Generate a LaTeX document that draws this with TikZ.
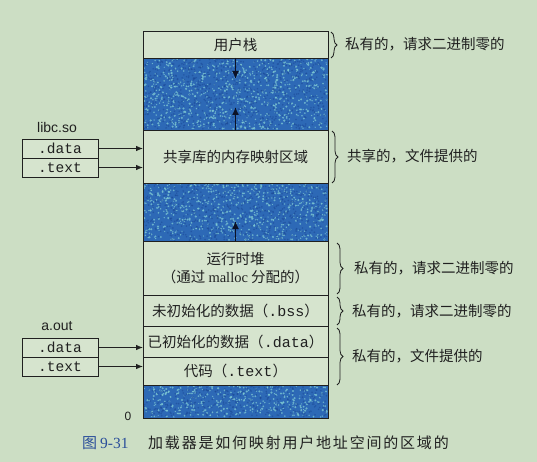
\documentclass[tikz,border=0pt]{standalone}
\usepackage{fontspec}
\setmainfont{Liberation Serif}
\setsansfont{Liberation Sans}
\setmonofont{Liberation Mono}
\newfontfamily\cjk{Noto Sans CJK SC}
\newfontfamily\cjkcap[LetterSpace=12]{Noto Sans CJK SC}
\usetikzlibrary{arrows.meta,decorations.pathreplacing}
\definecolor{bg}{HTML}{CCDEC4}
\definecolor{boxfill}{HTML}{D6E4CE}
\definecolor{ink}{HTML}{202020}
\definecolor{noiseblue}{HTML}{2D69B6}
\definecolor{speckA}{HTML}{80CBD4}
\definecolor{speckB}{HTML}{1B4896}
\definecolor{capblue}{HTML}{2A4E9A}
\definecolor{arrowink}{HTML}{0C1226}
\newcommand\mynoise[5]{%
  \foreach \k in {1,...,#5}{%
    \pgfmathsetmacro\xa{#1+#3*rnd}\pgfmathsetmacro\ya{#2+#4*rnd}\pgfmathsetmacro\ra{0.6+0.6*rnd}%
    \fill[speckA,opacity=0.75] (\xa,\ya) circle (\ra pt);}%
  \foreach \k in {1,...,#5}{%
    \pgfmathsetmacro\xa{#1+#3*rnd}\pgfmathsetmacro\ya{#2+#4*rnd}%
    \fill[speckB,opacity=0.55] (\xa,\ya) circle (0.9pt);}%
}
\tikzset{
  region/.style={draw=ink,line width=0.8pt,fill=boxfill,minimum width=185pt,inner sep=0pt,outer sep=0pt,font=\cjk\fontsize{14.5}{18}\selectfont,text=ink,align=center},
  bluereg/.style={draw=ink,line width=0.8pt,fill=noiseblue,minimum width=185pt,inner sep=0pt,outer sep=0pt},
  secbox/.style={draw=ink,line width=0.8pt,fill=boxfill,minimum width=76pt,minimum height=19pt,inner sep=0pt,outer sep=0pt,font=\ttfamily\fontsize{14.5}{14}\selectfont,text=ink},
  filelabel/.style={font=\sffamily\fontsize{14}{16}\selectfont,text=ink},
  side/.style={font=\cjk\fontsize{14.5}{16}\selectfont,text=ink,anchor=west,inner sep=0pt},
  mybrace/.style={draw=ink,line width=0.8pt,decorate,decoration={brace,amplitude=6pt}},
  ptr/.style={draw=ink,line width=0.8pt,-{Latex[length=7pt,width=5.5pt]}},
  growarrow/.style={draw=arrowink,line width=1.5pt,-{Latex[length=8pt,width=7pt]}}
}
\newcommand\mono[1]{{\ttfamily\fontsize{15}{16}\selectfont #1}}
\begin{document}
\begin{tikzpicture}[x=1pt,y=-1pt]
\useasboundingbox (0,0) rectangle (537,462);
\fill[bg] (0,0) rectangle (537,462);
% main column
\node[region,minimum height=27pt] (stack) at (235.5,44.5) {用户栈};
\node[bluereg,minimum height=72pt] (blueA) at (235.5,94) {};
\node[region,minimum height=53pt] (shared) at (235.5,156.5) {共享库的内存映射区域};
\node[bluereg,minimum height=58pt] (blueB) at (235.5,212) {};
\node[region,minimum height=54pt] (heap) at (235.5,268) {运行时堆\\（通过 {\rmfamily malloc} 分配的）};
\node[region,minimum height=31pt] (bss) at (235.5,310.5) {未初始化的数据（\mono{.bss}）};
\node[region,minimum height=31pt] (data) at (235.5,341.5) {已初始化的数据（\mono{.data}）};
\node[region,minimum height=28pt] (text) at (235.5,371) {代码（\mono{.text}）};
\node[bluereg,minimum height=33pt] (blueC) at (235.5,401.5) {};
% speckle
\pgfmathsetseed{7}
\mynoise{144}{59}{183}{70}{800}
\mynoise{144}{184}{183}{56}{640}
\mynoise{144}{386}{183}{31}{360}
\draw[ink,line width=0.8pt] (blueA.north west) rectangle (blueA.south east);
\draw[ink,line width=0.8pt] (blueB.north west) rectangle (blueB.south east);
\draw[ink,line width=0.8pt] (blueC.north west) rectangle (blueC.south east);
% growth arrows
\coordinate (sdown) at (235.5,79);
\coordinate (sup) at (235.5,107);
\coordinate (hup) at (235.5,221);
\draw[growarrow] (stack.south) -- (sdown);
\draw[growarrow] (shared.north) -- (sup);
\draw[growarrow] (heap.north) -- (hup);
% libc.so
\node[filelabel] (libc) at (57,127) {libc.so};
\node[secbox] (ldata) at (60,148.5) {.data};
\node[secbox] (ltext) at (60,167.5) {.text};
\draw[ptr] (ldata.east) -- (ldata.east -| shared.west);
\draw[ptr] (ltext.east) -- (ltext.east -| shared.west);
% a.out
\node[filelabel] (aout) at (57,326) {a.out};
\node[secbox] (adata) at (60,347.5) {.data};
\node[secbox] (atext) at (60,366.5) {.text};
\draw[ptr] (adata.east) -- (adata.east -| data.west);
\draw[ptr] (atext.east) -- (atext.east -| text.west);
% zero
\node[font=\sffamily\fontsize{12}{14}\selectfont,text=ink] (zero) at (128,416) {0};
% braces
\coordinate (b1a) at (331,32); \coordinate (b1b) at (331,58);
\coordinate (b2a) at (332,131); \coordinate (b2b) at (332,183);
\coordinate (b3a) at (337,243); \coordinate (b3b) at (337,294);
\coordinate (b4a) at (337,297); \coordinate (b4b) at (337,325);
\coordinate (b5a) at (337,328); \coordinate (b5b) at (337,385);
\draw[mybrace] (b1a) -- (b1b);
\draw[mybrace] (b2a) -- (b2b);
\draw[mybrace] (b3a) -- (b3b);
\draw[mybrace] (b4a) -- (b4b);
\draw[mybrace] (b5a) -- (b5b);
\node[side] (l1) at (345,44) {私有的，请求二进制零的};
\node[side] (l2) at (347,156) {共享的，文件提供的};
\node[side] (l3) at (354,268) {私有的，请求二进制零的};
\node[side] (l4) at (352,311) {私有的，请求二进制零的};
\node[side] (l5) at (352,356) {私有的，文件提供的};
% caption
\node[anchor=west,inner sep=0pt,text=capblue] (fig) at (82,443) {{\cjk\fontsize{15}{16}\selectfont 图}\hspace{3pt}{\rmfamily\fontsize{15.5}{16}\selectfont 9-31}};
\node[anchor=west,inner sep=0pt,text=ink,font=\cjkcap\fontsize{15}{17}\selectfont] (cap) at (148,443) {加载器是如何映射用户地址空间的区域的};
\end{tikzpicture}
\end{document}
